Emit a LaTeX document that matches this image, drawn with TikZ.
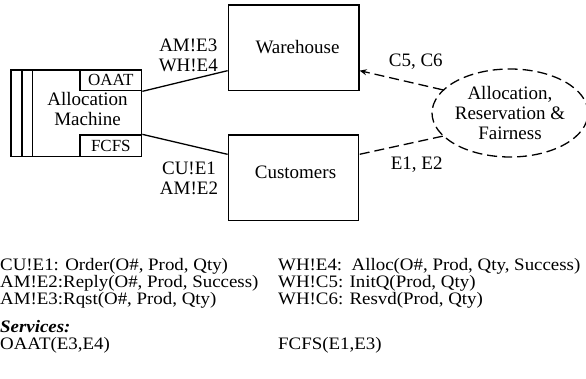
\documentclass[tikz,border=0pt]{standalone}
\usepackage{fontspec}
\setmainfont{Liberation Serif}
\newfontfamily\bodyfont{Liberation Serif}[FakeStretch=1.08]
\usetikzlibrary{arrows.meta,calc,shapes.geometric}
\begin{document}
\begin{tikzpicture}[x=1pt,y=-1pt,
  box/.style={draw,line width=1.3pt,inner sep=0pt},
  small/.style={font=\fontsize{17}{18}\selectfont},
  lbl/.style={font=\fontsize{19}{20}\selectfont,align=center,inner sep=0pt},
  txt/.style={font=\bodyfont\fontsize{17.5}{18}\selectfont,anchor=base west,inner sep=0pt},
  conn/.style={line width=1.3pt},
  dconn/.style={line width=1.3pt,dash pattern=on 10pt off 5pt}]
\useasboundingbox (0,0) rectangle (586,379);

% Allocation machine
\node[box,minimum width=130.7pt,minimum height=86.7pt] (am) at (76.35,113.35) {};
\draw[conn] ($(am.north west)+(11.7,0)$) -- ($(am.south west)+(11.7,0)$);
\draw[conn] ($(am.north west)+(22.3,0)$) -- ($(am.south west)+(22.3,0)$);
\node[box,small,anchor=north east,minimum width=61.7pt,minimum height=20.7pt] (oaat) at (am.north east) {OAAT};
\node[box,small,anchor=south east,minimum width=61.7pt,minimum height=21.7pt] (fcfs) at (am.south east) {FCFS};
\node[lbl] (amtxt) at (87.5,109.5) {Allocation\\Machine};

% Warehouse and Customers
\node[box,minimum width=130.7pt,minimum height=85.7pt] (wh) at (293.65,47.85) {};
\node[lbl] (whtxt) at (297.5,47) {Warehouse};
\node[box,minimum width=130.4pt,minimum height=85.7pt] (cu) at (293.5,177.85) {};
\node[lbl] (cutxt) at (295.5,172.5) {Customers};

% Ellipse
\node[draw,ellipse,line width=1.3pt,dash pattern=on 10pt off 5pt,
      minimum width=130pt,minimum height=88pt,inner sep=0pt,
      font=\fontsize{19}{20}\selectfont,align=center] (ell) at (510,113)
      {Allocation,\\Reservation \&\\Fairness};

% Connectors
\draw[conn] (oaat.south east) -- ($(wh.south west)+(0,-20.7)$);
\draw[conn] (fcfs.north east) -- ($(cu.north west)+(0,20)$);
\draw[dconn,-{Stealth[length=7pt,width=6pt]}] (ell.161) -- ($(wh.south east)+(0,-20.7)$);
\draw[dconn] (ell.199) -- ($(cu.north east)+(0,20)$);

% Connector labels
\node[lbl] (l1) at (188.3,55) {AM!E3\\WH!E4};
\node[lbl] (l2) at (189,178) {CU!E1\\AM!E2};
\node[lbl] (l3) at (415.8,62) {C5, C6};
\node[lbl] (l4) at (416.7,165) {E1, E2};

% Bottom text
\node[txt] (t1) at (0,271) {CU!E1: Order(O\#, Prod, Qty)};
\node[txt] (t2) at (0,287.8) {AM!E2:Reply(O\#, Prod, Success)};
\node[txt] (t3) at (0,304.6) {AM!E3:Rqst(O\#, Prod, Qty)};
\node[txt] (t4) at (278,271) {WH!E4:\ \ Alloc(O\#, Prod, Qty, Success)};
\node[txt] (t5) at (278,287.8) {WH!C5: InitQ(Prod, Qty)};
\node[txt] (t6) at (278,304.6) {WH!C6: Resvd(Prod, Qty)};
\node[txt,font=\bodyfont\fontsize{17.5}{18}\selectfont\bfseries\itshape] (t7) at (0,332.5) {Services:};
\node[txt] (t8) at (0,349.3) {OAAT(E3,E4)};
\node[txt] (t9) at (278,349.3) {FCFS(E1,E3)};
\end{tikzpicture}
\end{document}
